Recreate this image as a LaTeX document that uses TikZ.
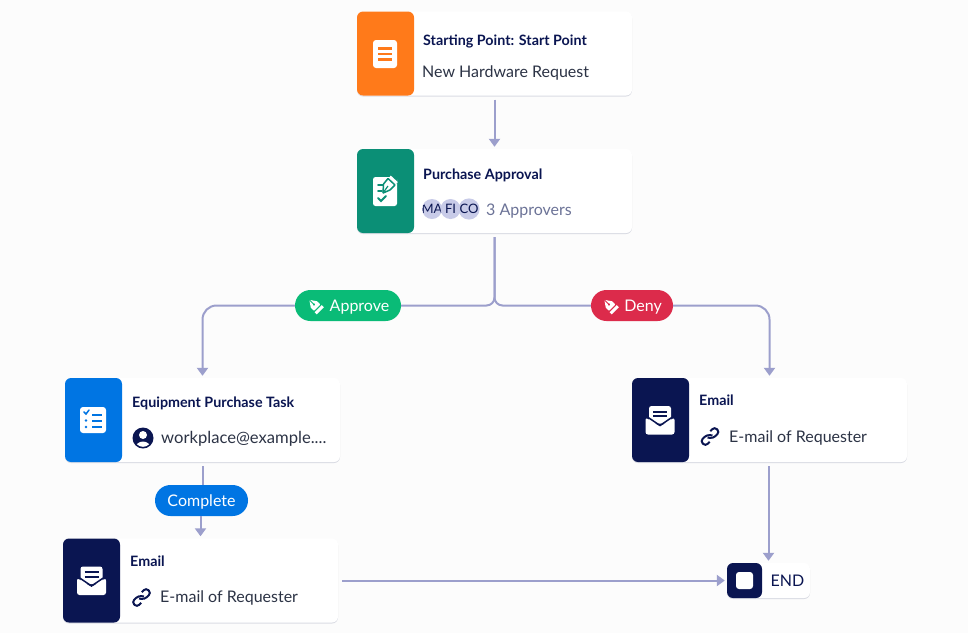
\documentclass[tikz,border=0pt]{standalone}
\usepackage{xcolor}
\usepackage{fontspec}
\usepackage{tikz}
\usetikzlibrary{arrows.meta,shadows}
\setmainfont{Lato}

\definecolor{navy}{HTML}{0A1551}
\definecolor{flowc}{HTML}{9C9FCC}
\definecolor{orangec}{HTML}{FF7A1A}
\definecolor{tealc}{HTML}{0B8F76}
\definecolor{bluec}{HTML}{0075E3}
\definecolor{pillgreen}{HTML}{0ABB77}
\definecolor{pillred}{HTML}{DC2B4B}
\definecolor{avatarc}{HTML}{C8CBE8}
\definecolor{inkc}{HTML}{2C3345}
\definecolor{greyc}{HTML}{6C7397}

\begin{document}
\begin{tikzpicture}[x=1pt,y=-1pt,
    card/.style={draw=none,fill=white,rounded corners=6pt,minimum width=275pt,minimum height=84pt,
        inner sep=0pt,drop shadow={shadow xshift=0pt,shadow yshift=-1pt,opacity=.14,fill=navy},
        path picture={\fill[#1] (path picture bounding box.north west) rectangle ++(57,84);}},
    endcard/.style={draw=none,fill=white,rounded corners=6pt,minimum width=83pt,minimum height=35pt,
        inner sep=0pt,drop shadow={shadow xshift=0pt,shadow yshift=-1pt,opacity=.14,fill=navy},
        path picture={\fill[navy] (path picture bounding box.north west) rectangle ++(35,35);}},
    title/.style={anchor=west,inner sep=0pt,text=navy,text height=11pt,text depth=1.5pt,
        font=\fontsize{14.3}{16}\selectfont\bfseries},
    sub/.style={anchor=west,inner sep=0pt,text=inkc,text height=13pt,text depth=2pt,
        font=\fontsize{16}{18}\selectfont},
    pill/.style={rounded corners=15.5pt,minimum height=31pt,inner sep=0pt,fill=#1,text=white,
        text height=13pt,text depth=2pt,font=\fontsize{16}{18}\selectfont},
    avatar/.style={circle,minimum size=20pt,inner sep=0pt,fill=avatarc,text=navy,
        font=\fontsize{13}{15}\selectfont},
    flow/.style={draw=flowc,line width=2pt,-{Triangle[length=8pt,width=11pt]}},
    flowline/.style={draw=flowc,line width=2pt},
    penicon/.pic={
        \fill[white,rotate=45,rounded corners=.5pt] (-4.5,3) -- (4.5,3) -- (4.5,-1.5) -- (0,-8) -- (-4.5,-1.5) -- cycle;
        \fill[white,rotate=45] (-5,4.5) rectangle (5,7.5);
        \draw[#1,rotate=45,line width=1pt] (0,-8) -- (0,-2);
        \fill[#1,rotate=45] (0,-1.5) circle (1.3);
    },
    mailicon/.pic={
        \fill[white,rounded corners=2.5pt] (-14.5,-3) -- (0,6) -- (14.5,-3) -- (14.5,14) -- (-14.5,14) -- cycle;
        \fill[white,rounded corners=2.5pt] (-11,-14.5) rectangle (11,3);
        \draw[navy,line width=1.5pt] (-14.5,-4.5) -- (-11,-2.5) -- (0,5) -- (11,-2.5) -- (14.5,-4.5);
        \draw[navy,line width=2pt] (-7,-9) -- (7,-9);
        \draw[navy,line width=2pt] (-7,-4.5) -- (7,-4.5);
    },
    linkicon/.pic={
        \draw[navy,line width=2pt,rotate=45,rounded corners=3pt] (2.5,1) -- (-1,-3.5) -- (-10,-3.5) -- (-10,3.5) -- (-4,3.5);
        \draw[navy,line width=2pt,rotate=45,rounded corners=3pt] (-2.5,-1) -- (1,3.5) -- (10,3.5) -- (10,-3.5) -- (4,-3.5);
    }]

    \useasboundingbox[fill=white!98!gray] (0,0) rectangle (968,633);

    % cards
    \node[card=orangec] (startcard) at (494.5,53.5) {};
    \node[card=tealc] (approval) at (494.5,191) {};
    \node[card=bluec] (task) at (202.5,420) {};
    \node[card=navy] (emailleft) at (200.5,580.5) {};
    \node[card=navy] (emailright) at (769.5,420) {};
    \node[endcard] (endnode) at (768.5,580.5) {};

    % pills
    \node[pill=pillgreen,minimum width=106pt] (approve) at (348,305.5) {\hspace{23pt}Approve};
    \node[pill=pillred,minimum width=82pt] (deny) at (632,305.5) {\hspace{22pt}Deny};
    \node[pill=bluec,minimum width=93pt] (complete) at (201.5,500.5) {Complete};

    % connectors
    \draw[flow,shorten <=4pt,shorten >=2pt] (startcard.south) -- (approval.north);
    \draw[flowline,rounded corners=8pt,shorten <=4pt] (approval.south) |- (approve.east);
    \draw[flowline,rounded corners=8pt,shorten <=4pt] (approval.south) |- (deny.west);
    \draw[flow,rounded corners=14pt,shorten >=2pt] (approve.west) -| (task.north);
    \draw[flow,rounded corners=14pt,shorten >=2pt] (deny.east) -| (emailright.north);
    \draw[flowline,shorten <=4pt] (task.south) -- (task.south |- complete.north);
    \draw[flow,shorten >=2pt] (complete.south -| emailleft.north) -- (emailleft.north);
    \draw[flow,shorten <=4pt,shorten >=2pt] (emailleft.east) -- (endnode.west);
    \draw[flow,shorten <=4pt,shorten >=2pt] (endnode.north |- emailright.south) -- (endnode.north);

    % start card
    \fill[white,rounded corners=3pt] (373,40) rectangle (397,68);
    \draw[orangec,line width=2.4pt] (378,48.5) -- (392,48.5);
    \draw[orangec,line width=2.4pt] (378,54) -- (392,54);
    \draw[orangec,line width=2.4pt] (378,59.5) -- (392,59.5);
    \node[title] (starttitle) at (423,41) {Starting Point: Start Point};
    \node[sub] (startsub) at (422,71.5) {New Hardware Request};

    % approval card
    \fill[white,rounded corners=2.5pt] (373,177) rectangle (397,206);
    \fill[tealc] (390,177) -- (397,177) -- (397,184) -- cycle;
    \draw[tealc,line width=1.8pt,line cap=round] (378,185) -- (383,185);
    \draw[tealc,line width=1.8pt,line cap=round] (378,191) -- (382,191);
    \draw[tealc,line width=1.8pt,line cap=round] (378,198) -- (381,201) -- (386,196);
    \draw[tealc,line width=1.5pt,fill=white,rounded corners=.5pt] (383.5,184) -- (388,178.5) -- (395,185) -- (390,190) -- (383,193) -- cycle;
    \draw[tealc,line width=1.2pt] (383,193) -- (388,186);
    \draw[white,line width=2.4pt] (390,176.5) -- (397,183);
    \node[title] (approvaltitle) at (423,175) {Purchase Approval};
    \node[avatar,path picture={\node[text=navy] at (path picture bounding box.center) {MA};}] (ma) at (432,209) {};
    \node[avatar,path picture={\node[text=navy] at (path picture bounding box.center) {FI};}] (fi) at (450.5,209) {};
    \node[avatar] (co) at (469,209) {CO};
    \node[sub,text=greyc] (approvers) at (486,209.5) {3 Approvers};

    % task card
    \fill[white,rounded corners=3pt] (80,407) rectangle (106,433);
    \draw[bluec,line width=1.5pt,line cap=round] (84,412) -- (86,414) -- (89,410);
    \draw[bluec,line width=2pt] (92,415) -- (102,415);
    \draw[bluec,line width=2pt] (92,420.5) -- (102,420.5);
    \draw[bluec,line width=2pt] (92,427) -- (102,427);
    \fill[bluec] (86,420.5) circle (1.4);
    \fill[bluec] (86,427) circle (1.4);
    \node[title] (tasktitle) at (132,403) {Equipment Purchase Task};
    \fill[navy] (143,438) circle (10.5);
    \fill[white] (143,435) circle (4);
    \begin{scope}
        \clip (143,438) circle (8.8);
        \fill[white] (143,449) ellipse (8 and 7.5);
    \end{scope}
    \node[sub,font=\fontsize{16.6}{18}\selectfont] (tasksub) at (161,437.5) {workplace@example....};

    % left email card
    \pic at (91.5,581) {mailicon};
    \node[title] (emaillefttitle) at (130,561.5) {Email};
    \pic at (141.5,597.5) {linkicon};
    \node[sub] (emailleftsub) at (160,597) {E-mail of Requester};

    % right email card
    \pic at (660,420.5) {mailicon};
    \node[title] (emailrighttitle) at (699,401) {Email};
    \pic at (710,436.5) {linkicon};
    \node[sub] (emailrightsub) at (729,436.5) {E-mail of Requester};

    % end node
    \fill[white,rounded corners=3pt] (736,572) rectangle (753,589);
    \node[sub,text=navy] (endtext) at (770.5,581) {END};

    % pen icons on the pills
    \pic at (315,305.5) {penicon=pillgreen};
    \pic at (610,305.5) {penicon=pillred};
\end{tikzpicture}
\end{document}
